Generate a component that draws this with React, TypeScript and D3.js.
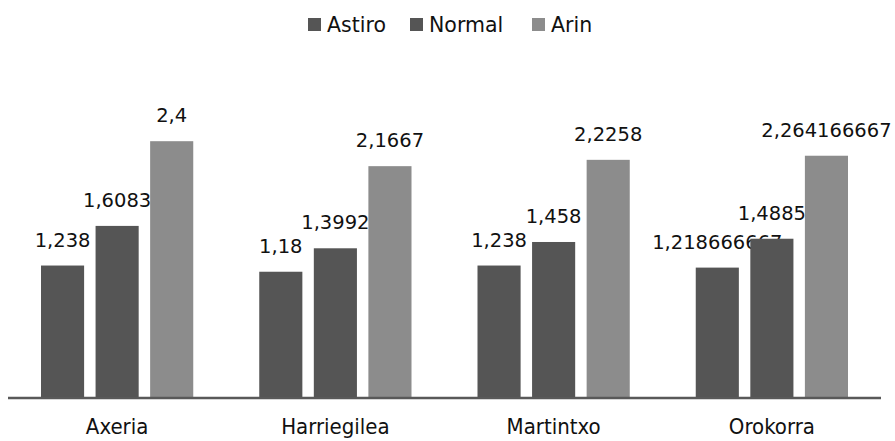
import React from "react";
import * as d3 from "d3";

const categories = ["Axeria", "Harriegilea", "Martintxo", "Orokorra"];
const seriesNames = ["Astiro", "Normal", "Arin"];
const astiro = [1.238, 1.18, 1.238, 1.218666667];
const normal = [1.6083, 1.3992, 1.458, 1.4885];
const arin = [2.4, 2.1667, 2.2258, 2.264166667];
const labelsAstiro = ["1,238", "1,18", "1,238", "1,218666667"];
const labelsNormal = ["1,6083", "1,3992", "1,458", "1,4885"];
const labelsArin = ["2,4", "2,1667", "2,2258", "2,264166667"];

const seriesValues = [astiro, normal, arin];
const seriesLabels = [labelsAstiro, labelsNormal, labelsArin];
const colors = ["#555555", "#555555", "#8c8c8c"];

const W = 895;
const H = 441;
const left = 8;
const right = 881;
const baseY = 398;

export default function App() {
  const x0 = d3.scaleBand<string>().domain(categories).range([left, right]).padding(0);
  const bw = x0.bandwidth();
  const x1 = d3
    .scaleBand<string>()
    .domain(seriesNames)
    .range([33, bw - 33])
    .paddingInner(0.21)
    .paddingOuter(0);
  const y = d3.scaleLinear().domain([0, 3]).range([baseY, 77]);

  const legendItems = [
    { sq: 308, tx: 327 },
    { sq: 410, tx: 429 },
    { sq: 532, tx: 551 },
  ];

  return (
    <svg
      width={W}
      height={H}
      style={{ position: "absolute", left: 0, top: 0, background: "#fff" }}
    >
      {legendItems.map((l, i) => (
        <g key={seriesNames[i]}>
          <rect x={l.sq} y={18} width={13} height={13} fill={colors[i]} />
          <text
            x={l.tx}
            y={32}
            fontFamily="DejaVu Sans"
            fontSize={20.5}
            fill="#111"
          >
            {seriesNames[i]}
          </text>
        </g>
      ))}
      {categories.map((c, ci) => (
        <g key={c} transform={`translate(${x0(c)},0)`}>
          {seriesNames.map((s, si) => {
            const v = seriesValues[si][ci];
            const bx = x1(s)!;
            const top = y(v);
            return (
              <g key={s}>
                <rect
                  x={bx}
                  y={top}
                  width={x1.bandwidth()}
                  height={baseY - top}
                  fill={colors[si]}
                />
                <text
                  x={bx + x1.bandwidth() / 2}
                  y={top - 19}
                  textAnchor="middle"
                  fontFamily="DejaVu Sans"
                  fontSize={19.5}
                  fill="#111"
                >
                  {seriesLabels[si][ci]}
                </text>
              </g>
            );
          })}
          <text
            x={bw / 2}
            y={434}
            textAnchor="middle"
            fontFamily="DejaVu Sans Condensed, DejaVu Sans"
            fontStretch="condensed"
            fontSize={22}
            fill="#111"
          >
            {c}
          </text>
        </g>
      ))}
      <line x1={left} x2={right} y1={baseY} y2={baseY} stroke="#595959" strokeWidth={2.5} />
    </svg>
  );
}
